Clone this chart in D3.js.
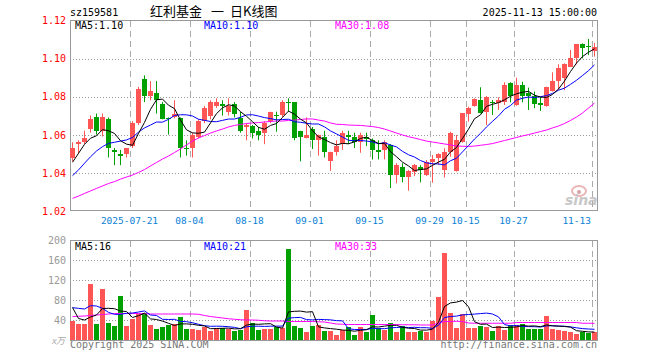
<!DOCTYPE html>
<html>
<head>
<meta charset="utf-8">
<script src="https://cdn.jsdelivr.net/npm/d3@7"></script>
<style>
  body { margin: 0; background: #fff; }
  text { font-family: "DejaVu Sans Mono", monospace; }
</style>
</head>
<body>
<div id="kline"></div>
<script>

// ======================= //
// DATA
// ======================= //

var dates = [
  "2025-07-07","2025-07-08","2025-07-09","2025-07-10","2025-07-11","2025-07-14","2025-07-15","2025-07-16","2025-07-17","2025-07-18",
  "2025-07-21","2025-07-22","2025-07-23","2025-07-24","2025-07-25","2025-07-28","2025-07-29","2025-07-30","2025-07-31","2025-08-01",
  "2025-08-04","2025-08-05","2025-08-06","2025-08-07","2025-08-08","2025-08-11","2025-08-12","2025-08-13","2025-08-14","2025-08-15",
  "2025-08-18","2025-08-19","2025-08-20","2025-08-21","2025-08-22","2025-08-25","2025-08-26","2025-08-27","2025-08-28","2025-08-29",
  "2025-09-01","2025-09-02","2025-09-03","2025-09-04","2025-09-05","2025-09-08","2025-09-09","2025-09-10","2025-09-11","2025-09-12",
  "2025-09-15","2025-09-16","2025-09-17","2025-09-18","2025-09-19","2025-09-22","2025-09-23","2025-09-24","2025-09-25","2025-09-26",
  "2025-09-29","2025-09-30","2025-10-09","2025-10-10","2025-10-13","2025-10-14","2025-10-15","2025-10-16","2025-10-17","2025-10-20",
  "2025-10-21","2025-10-22","2025-10-23","2025-10-24","2025-10-27","2025-10-28","2025-10-29","2025-10-30","2025-10-31","2025-11-03",
  "2025-11-04","2025-11-05","2025-11-06","2025-11-07","2025-11-10","2025-11-11","2025-11-12","2025-11-13"]

var openP = [1.048,1.055,1.056,1.063,1.069,1.062,1.068,1.052,1.050,1.050,
  1.054,1.066,1.089,1.080,1.082,1.076,1.0685,1.069,1.0685,1.053,
  1.053,1.059,1.067,1.070,1.075,1.076,1.072,1.076,1.0685,1.064,
  1.0645,1.062,1.061,1.067,1.0705,1.0705,1.077,1.077,1.062,1.058,
  1.063,1.057,1.059,1.046,1.051,1.055,1.0596,1.0586,1.056,1.059,
  1.057,1.052,1.052,1.0546,1.039,1.043,1.0376,1.0406,1.043,1.0388,
  1.0458,1.0476,1.0415,1.051,1.0411,1.0563,1.0708,1.075,1.0781,1.072,
  1.0772,1.0764,1.0772,1.0869,1.0755,1.086,1.0816,1.0804,1.0764,1.0751,
  1.0828,1.0881,1.0895,1.0955,1.1003,1.1073,1.1066,1.1038]

var highP = [1.056,1.057,1.062,1.070,1.071,1.071,1.069,1.053,1.052,1.053,
  1.067,1.085,1.091,1.088,1.088,1.077,1.069,1.078,1.069,1.057,
  1.061,1.068,1.075,1.078,1.079,1.078,1.079,1.077,1.072,1.066,
  1.065,1.064,1.067,1.072,1.072,1.078,1.079,1.077,1.062,1.069,
  1.064,1.060,1.062,1.051,1.057,1.062,1.062,1.061,1.061,1.061,
  1.058,1.057,1.057,1.055,1.045,1.045,1.0415,1.0446,1.044,1.0467,
  1.0493,1.0502,1.0528,1.0615,1.0598,1.0711,1.0746,1.079,1.0848,1.0802,
  1.0781,1.0795,1.0874,1.0874,1.0898,1.0877,1.0846,1.0825,1.0798,1.0851,
  1.0926,1.0968,1.0973,1.1043,1.1073,1.1078,1.1101,1.108]

var lowP = [1.046,1.050,1.055,1.061,1.060,1.059,1.048,1.044,1.044,1.048,
  1.053,1.065,1.077,1.078,1.071,1.068,1.060,1.0685,1.048,1.049,
  1.048,1.058,1.066,1.068,1.074,1.070,1.070,1.069,1.061,1.057,
  1.058,1.057,1.055,1.066,1.0615,1.069,1.072,1.057,1.046,1.058,
  1.0525,1.049,1.048,1.041,1.049,1.052,1.055,1.053,1.0505,1.054,
  1.047,1.047,1.047,1.032,1.0345,1.035,1.0306,1.0383,1.035,1.0383,
  1.0348,1.0441,1.0376,1.0484,1.0406,1.0558,1.0668,1.0746,1.0711,1.065,
  1.0703,1.0729,1.0755,1.0769,1.0751,1.0769,1.0729,1.0738,1.0724,1.0746,
  1.0825,1.0833,1.0833,1.0955,1.0968,1.0999,1.1017,1.1008]

var closeP = [1.053,1.056,1.058,1.068,1.062,1.069,1.053,1.051,1.049,1.053,
  1.066,1.084,1.080,1.083,1.078,1.068,1.068,1.071,1.053,1.0525,
  1.060,1.067,1.074,1.077,1.077,1.075,1.075,1.071,1.062,1.065,
  1.061,1.060,1.066,1.072,1.070,1.077,1.0765,1.058,1.059,1.060,
  1.057,1.060,1.051,1.051,1.054,1.061,1.059,1.056,1.060,1.0575,
  1.052,1.051,1.056,1.039,1.044,1.038,1.041,1.044,1.0415,1.0458,
  1.0471,1.0498,1.051,1.061,1.0572,1.0711,1.0738,1.0785,1.0711,1.0795,
  1.0764,1.0781,1.086,1.0804,1.086,1.0804,1.0804,1.0759,1.0755,1.0851,
  1.0881,1.0947,1.0968,1.1003,1.1073,1.1052,1.106,1.106]

// volume, unit 万
var volume = [38,33,33,113,33,103,35,29,89,29,
  43,53,55,31,23,27,31,33,47,23,
  23,21,27,19,25,25,23,19,21,61,
  35,21,23,23,27,25,183,29,25,17,
  29,31,19,18,11,21,27,11,27,17,
  50,25,20,35,17,29,17,17,19,17,
  37,87,175,55,25,53,25,25,29,27,
  19,29,21,31,31,33,23,23,23,49,
  23,21,19,17,13,17,15,17]

// moving averages: first points come from days before the window
var ma5Head = [1.0455,1.0502,1.0549,1.0581]
var ma10Head = [1.0385,1.0415,1.045,1.0484,1.0514,1.0537,1.0554,1.056,1.0566]
var ma30 = [1.0266,1.0278,1.0292,1.0305,1.0318,1.0331,1.0344,1.0354,1.0367,1.0378,
  1.0388,1.0402,1.0417,1.0436,1.0454,1.0472,1.0488,1.0506,1.0525,1.0546,
  1.0566,1.0582,1.0595,1.0608,1.0619,1.0629,1.0640,1.0648,1.0653,1.0658,
  1.0661,1.0663,1.0666,1.0669,1.0671,1.0671,1.0674,1.0676,1.0679,1.0682,
  1.0682,1.0676,1.0671,1.0661,1.0654,1.0653,1.0650,1.0649,1.0648,1.0645,
  1.0642,1.0637,1.0629,1.0619,1.0608,1.0598,1.0589,1.0582,1.0574,1.0566,
  1.0561,1.0556,1.0551,1.0546,1.0540,1.0539,1.0538,1.0540,1.0544,1.0548,
  1.0553,1.0561,1.0569,1.0577,1.0585,1.0593,1.0600,1.0608,1.0616,1.0624,
  1.0635,1.0645,1.0658,1.0674,1.0692,1.0713,1.0739,1.0765]

var volMa5Head = [65,43,40,46]
var volMa10Head = [64.7,63.3,62,68.7,68,63.3,55.3,51.3,51.3]
var volMa30 = [46.7,47.5,48,49,50,51,52,53,53,53,
  53,53,52.5,52,52,52,52,52,52,52,
  52,51.5,49,47,45.5,44,42.5,41.5,40.5,40,
  40,39.5,38.5,38,38,38,37,37,37,37,
  37,36.5,36,34,32,31.5,31,31,31,31,
  31,31,31,31,31,30.5,30.5,30.5,30,30,
  30,34,37,37,37.5,37,34,33.5,33.5,33.5,
  33.5,33.5,33.5,33.5,35,35,35,35,35,35,
  35,35,35,35,35,33.5,33.5,33.3]

var priceTicks = [1.12, 1.10, 1.08, 1.06, 1.04, 1.02]
var volTicks = [200, 160, 120, 80, 40]
var tickDates = ["2025-07-21","2025-08-04","2025-08-18","2025-09-01","2025-09-15","2025-09-29","2025-10-15","2025-10-27","2025-11-13"]
var tickLabels = ["2025-07-21","08-04","08-18","09-01","09-15","09-29","10-15","10-27","11-13"]

var priceMaText = ["MA5:1.10", "MA10:1.10", "MA30:1.08"]
var volMaText = ["MA5:16", "MA10:21", "MA30:33"]


// ======================= //
// SVG AND SCALES
// ======================= //

var left = 70, right = 597
var pTop = 20, pBot = 211
var vTop = 240, vBot = 340

var upColor = "#ff5555", downColor = "#00a000"
var maColors = ["#000000", "#0000ff", "#ff00ff"]

var svg = d3.select("#kline")
  .append("svg")
    .attr("width", 660)
    .attr("height", 360)
    .style("display", "block")

var x = d3.scaleBand()
  .domain(dates)
  .range([left, right + 1])
  .paddingInner(1/6)
  .paddingOuter(1/12)

function xl(d) { return Math.floor(x(d)) }
function xc(d) { return Math.floor(x(d)) + 2.5 }

var yP = d3.scaleLinear().domain([1.02, 1.12]).range([pBot, pTop])
var yV = d3.scaleLinear().domain([0, 200]).range([vBot, vTop])

// moving average from the series, head values for the first days
function movingAvg(vals, n, head) {
  return vals.map(function(v, i) {
    if (i < head.length) return head[i]
    return d3.mean(vals.slice(i - n + 1, i + 1))
  })
}

var ma5 = movingAvg(closeP, 5, ma5Head)
var ma10 = movingAvg(closeP, 10, ma10Head)
var volMa5 = movingAvg(volume, 5, volMa5Head)
var volMa10 = movingAvg(volume, 10, volMa10Head)

var isUp = closeP.map(function(c, i) { return c >= openP[i] })


// ======================= //
// HEADER AND FOOTER TEXT
// ======================= //

svg.append("text")
  .attr("x", 70).attr("y", 16)
  .style("font-size", "10px")
  .text("sz159581")

var titleFont = '"Noto Sans CJK SC", sans-serif'
svg.append("text").attr("x", 150).attr("y", 16)
  .style("font-family", titleFont).style("font-size", "13px").text("红利基金")
svg.append("text").attr("x", 211).attr("y", 16)
  .style("font-family", titleFont).style("font-size", "13px").text("一")
svg.append("text").attr("x", 230).attr("y", 16)
  .style("font-family", titleFont).style("font-size", "13px").text("日K线图")

svg.append("text")
  .attr("x", 597).attr("y", 16)
  .attr("text-anchor", "end")
  .style("font-size", "10px")
  .text("2025-11-13 15:00:00")

svg.append("text")
  .attr("x", 70).attr("y", 348)
  .style("font-size", "10px").style("fill", "#777")
  .text("Copyright 2025 SINA.COM")

svg.append("text")
  .attr("x", 597).attr("y", 348)
  .attr("text-anchor", "end")
  .style("font-size", "10px").style("fill", "#777")
  .text("http://finance.sina.com.cn")

svg.append("text")
  .attr("x", 65).attr("y", 344)
  .attr("text-anchor", "end")
  .style("font-size", "9px").style("font-style", "italic").style("fill", "#aaa")
  .style("font-family", titleFont)
  .text("x万")

// sina watermark
svg.append("ellipse")
  .attr("cx", 579).attr("cy", 191).attr("rx", 7).attr("ry", 5)
  .style("fill", "none").style("stroke", "#eab4b4").style("stroke-width", 2)
svg.append("circle")
  .attr("cx", 579).attr("cy", 192).attr("r", 2)
  .style("fill", "#d8a0a0")
svg.append("text")
  .attr("x", 565).attr("y", 205)
  .style("font-family", "'DejaVu Sans', sans-serif")
  .style("font-size", "14px").style("font-weight", "bold").style("font-style", "italic")
  .style("fill", "#c8c8c8")
  .text("sina")


// ======================= //
// GRIDS AND AXES
// ======================= //

function drawGrid(yScale, ticks, y0, y1, roundFn) {
  var g = svg.append("g")
  g.selectAll("hline")
    .data(ticks)
    .enter()
    .append("line")
      .attr("x1", left).attr("x2", right)
      .attr("y1", function(d) { return roundFn(yScale(d)) + 0.5 })
      .attr("y2", function(d) { return roundFn(yScale(d)) + 0.5 })
      .style("stroke", "#999")
      .style("stroke-dasharray", "1,2")
  g.selectAll("vline")
    .data(tickDates)
    .enter()
    .append("line")
      .attr("x1", function(d) { return xl(d) + 0.5 })
      .attr("x2", function(d) { return xl(d) + 0.5 })
      .attr("y1", y0).attr("y2", y1)
      .style("stroke", "#aaa")
      .style("stroke-dasharray", "6,4")
}

drawGrid(yP, [1.10, 1.08, 1.06, 1.04], pTop + 1, pBot, Math.ceil)
drawGrid(yV, [160, 120, 80, 40], vTop + 1, vBot, Math.round)

// panel borders
svg.append("rect")
  .attr("x", left + 0.5).attr("y", pTop + 0.5)
  .attr("width", right - left).attr("height", pBot - pTop - 1)
  .style("fill", "none").style("stroke", "#999")
svg.append("rect")
  .attr("x", left + 0.5).attr("y", vTop + 0.5)
  .attr("width", right - left).attr("height", vBot - vTop)
  .style("fill", "none").style("stroke", "#999")

// price labels
svg.selectAll("pLabel")
  .data(priceTicks)
  .enter()
  .append("text")
    .attr("x", 66)
    .attr("y", function(d) { return yP(d) + 4 })
    .attr("text-anchor", "end")
    .style("font-size", "10px")
    .style("fill", "#ff0000")
    .text(function(d) { return d.toFixed(2) })

// volume labels
svg.selectAll("vLabel")
  .data(volTicks)
  .enter()
  .append("text")
    .attr("x", 66)
    .attr("y", function(d) { return yV(d) + 4 })
    .attr("text-anchor", "end")
    .style("font-size", "10px")
    .style("fill", "#999")
    .text(function(d) { return d })

// date labels
svg.selectAll("dLabel")
  .data(tickDates)
  .enter()
  .append("text")
    .attr("x", function(d, i) { return i == tickDates.length - 1 ? 591 : xl(d) - 0.5 })
    .attr("y", 224)
    .attr("text-anchor", function(d, i) { return i == tickDates.length - 1 ? "end" : "middle" })
    .style("font-size", "9.5px")
    .style("fill", "#0a7fd6")
    .text(function(d, i) { return tickLabels[i] })


// ======================= //
// CANDLES AND VOLUME BARS
// ======================= //

svg.append("g")
  .selectAll("wick")
  .data(dates)
  .enter()
  .append("line")
    .attr("x1", function(d) { return xc(d) })
    .attr("x2", function(d) { return xc(d) })
    .attr("y1", function(d, i) { return yP(highP[i]) })
    .attr("y2", function(d, i) { return yP(lowP[i]) })
    .style("stroke", function(d, i) { return isUp[i] ? upColor : downColor })

svg.append("g")
  .selectAll("body")
  .data(dates)
  .enter()
  .append("rect")
    .attr("x", function(d) { return xl(d) })
    .attr("width", x.bandwidth())
    .attr("y", function(d, i) { return Math.round(yP(Math.max(openP[i], closeP[i]))) })
    .attr("height", function(d, i) {
      var h = Math.round(yP(Math.min(openP[i], closeP[i]))) - Math.round(yP(Math.max(openP[i], closeP[i])))
      return Math.max(1, h)
    })
    .style("fill", function(d, i) { return isUp[i] ? upColor : downColor })

svg.append("g")
  .selectAll("vbar")
  .data(dates)
  .enter()
  .append("rect")
    .attr("x", function(d) { return xl(d) })
    .attr("width", x.bandwidth())
    .attr("y", function(d, i) { return Math.round(yV(volume[i])) })
    .attr("height", function(d, i) { return vBot - Math.round(yV(volume[i])) })
    .style("fill", function(d, i) { return isUp[i] ? upColor : downColor })


// ======================= //
// MOVING AVERAGE LINES
// ======================= //

function drawLine(vals, yScale, color) {
  var line = d3.line()
    .x(function(d, i) { return xc(dates[i]) })
    .y(function(d) { return yScale(d) })
  svg.append("path")
    .datum(vals)
    .attr("d", line)
    .style("fill", "none")
    .style("stroke", color)
    .style("stroke-width", 1)
}

drawLine(ma30, yP, maColors[2])
drawLine(ma10, yP, maColors[1])
drawLine(ma5, yP, maColors[0])
drawLine(volMa30, yV, maColors[2])
drawLine(volMa10, yV, maColors[1])
drawLine(volMa5, yV, maColors[0])

// MA legends
var maX = [75, 204, 335]
svg.selectAll("pMa")
  .data(priceMaText)
  .enter()
  .append("text")
    .attr("x", function(d, i) { return maX[i] })
    .attr("y", 29)
    .style("font-size", "10px")
    .style("fill", function(d, i) { return maColors[i] })
    .text(function(d) { return d })

svg.selectAll("vMa")
  .data(volMaText)
  .enter()
  .append("text")
    .attr("x", function(d, i) { return maX[i] })
    .attr("y", 250)
    .style("font-size", "10px")
    .style("fill", function(d, i) { return maColors[i] })
    .text(function(d) { return d })

</script>
</body>
</html>
